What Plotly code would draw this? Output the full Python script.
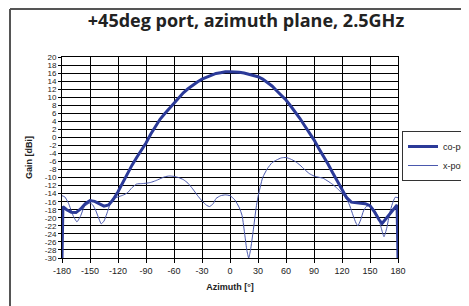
import plotly.graph_objects as go

# ---- data ----
co_az = [-180, -179, -175, -170, -165, -160, -155, -150, -145, -140, -135, -130, -125,
         -120, -115, -110, -105, -100, -95, -90, -85, -80, -75, -70, -65, -60, -55, -50,
         -45, -40, -35, -30, -25, -20, -15, -10, -5, 0, 5, 10, 15, 20, 25, 30, 35, 40,
         45, 50, 55, 60, 65, 70, 75, 80, 85, 90, 95, 100, 105, 110, 115, 120, 125, 130,
         135, 140, 145, 150, 155, 160, 163, 165, 170, 175, 179, 180]
co_gain = [-30, -17.2, -18.0, -18.6, -18.7, -17.8, -16.5, -15.7, -15.9, -16.5, -17.1, -16.8, -15.4,
           -13.5, -11.2, -9.0, -6.9, -5.0, -3.2, -1.4, 0.8, 2.8, 4.5, 5.9, 7.2, 8.5, 9.9, 11.1,
           12.1, 13.0, 13.8, 14.5, 15.0, 15.5, 15.9, 16.1, 16.3, 16.3, 16.3, 16.2, 16.0, 15.7, 15.4, 15.1, 14.5, 13.7,
           12.8, 11.6, 10.5, 9.3, 7.8, 6.3, 4.7, 2.9, 1.2, -0.6, -2.7, -4.6, -6.6, -8.8, -10.9, -13.1, -15.0, -16.1,
           -16.3, -16.4, -16.5, -17.0, -18.6, -20.6, -21.4, -20.8, -19.3, -17.8, -16.8, -30]

x_az = [-180, -177, -173, -168, -164, -160, -156, -150, -147, -144, -140, -138, -135, -132, -128,
        -125, -120, -115, -110, -105, -100, -95, -90, -85, -80, -75, -70, -65, -60, -55, -50,
        -45, -40, -35, -30, -25, -22, -18, -15, -10, -5, 0, 5, 10, 13, 16, 18, 20, 22, 25, 28,
        30, 35, 40, 45, 50, 55, 60, 65, 70, 75, 80, 85, 90, 95, 100, 105, 110, 115, 120, 125,
        128, 132, 135, 137, 140, 143, 146, 150, 153, 156, 159, 162, 165, 168, 171, 174, 177, 180]
x_gain = [-14.5, -14.8, -16.4, -19.5, -21.0, -19.5, -17.2, -16.3, -16.8, -18.1, -20.5, -21.5, -20.8, -19.0, -16.3,
          -15.3, -14.8, -14.4, -13.8, -12.5, -11.6, -11.5, -11.4, -11.2, -10.8, -10.3, -9.8, -9.6, -9.7, -10.0, -10.5,
          -11.4, -12.8, -14.4, -15.8, -16.9, -17.2, -16.5, -15.2, -14.5, -14.3, -14.5, -15.5, -17.5, -19.5, -24.5, -28, -30, -28, -23, -17.5,
          -14.8, -10, -7.8, -6.3, -5.6, -5.1, -5.0, -5.4, -6.0, -6.9, -8.0, -9.0, -9.6, -9.9, -10.2, -10.9, -11.7, -12.7, -13.9, -15.4,
          -16.8, -19.5, -21.3, -22.0, -20.5, -18.3, -17.2, -16.9, -17.5, -18.6, -19.8, -22.5, -24.7, -22.5, -18.9, -16.5, -14.9, -15.0]

x_ticks = [-180, -150, -120, -90, -60, -30, 0, 30, 60, 90, 120, 150, 180]
y_ticks = list(range(-30, 21, 2))

title_text = "+45deg port, azimuth plane, 2.5GHz"

# ---- figure ----
# the page body adds an 8px offset, so the figure is sized to fit the window after it
OFF = 8
PAGE_W, PAGE_H = 469, 306
W, H = PAGE_W - OFF, PAGE_H - OFF
plot_l, plot_r, plot_t, plot_b = 62, 398, 57, 258  # page pixels
ml, mr = plot_l - OFF, PAGE_W - plot_r
mt, mb = plot_t - OFF, PAGE_H - plot_b
pw, ph = W - ml - mr, H - mt - mb

fig = go.Figure()
fig.add_trace(go.Scatter(x=x_az, y=x_gain, name="x-pol", mode="lines",
                         line=dict(color="#4a58ad", width=1, shape="spline", smoothing=0.5)))
fig.add_trace(go.Scatter(x=co_az, y=co_gain, name="co-pol", mode="lines",
                         line=dict(color="#2b3a98", width=3)))

def px_x(p):  # page pixel -> paper x
    return (p - plot_l) / pw

def px_y(p):  # page pixel -> paper y
    return (plot_b - p) / ph

# outer chart frame (left and top edges)
fig.add_shape(type="line", xref="paper", yref="paper",
              x0=px_x(10), x1=px_x(10), y0=px_y(9), y1=px_y(PAGE_H + 5),
              line=dict(color="#555555", width=2))
fig.add_shape(type="line", xref="paper", yref="paper",
              x0=px_x(10), x1=px_x(PAGE_W + 5), y0=px_y(9), y1=px_y(9),
              line=dict(color="#555555", width=2))

fig.update_layout(
    width=W, height=H,
    margin=dict(l=ml, r=mr, t=mt, b=mb, autoexpand=False),
    paper_bgcolor="white", plot_bgcolor="white",
    title=dict(text="<b>" + title_text + "</b>", x=(246 - OFF) / W, xanchor="center",
               y=1 - (21 - OFF) / H, yanchor="middle",
               font=dict(family="Open Sans", size=18, color="#222222")),
    font=dict(family="Liberation Sans, Arial", color="#222222"),
    showlegend=True,
    legend=dict(x=px_x(402), y=px_y(156), xanchor="left", yanchor="middle",
                bordercolor="#333333", borderwidth=1, bgcolor="white",
                font=dict(size=9, family="Liberation Sans"),
                traceorder="reversed", itemwidth=30, tracegroupgap=0),
    xaxis=dict(range=[-180, 180], tickvals=x_ticks, ticktext=[str(v) for v in x_ticks],
               automargin=False,
               showgrid=True, gridcolor="black", gridwidth=1, zeroline=False,
               showline=True, linecolor="black", linewidth=1, mirror=True,
               ticks="outside", ticklen=4, tickcolor="black",
               tickfont=dict(size=9, family="Liberation Sans"),
               title=dict(text="<b>Azimuth [°]</b>", font=dict(size=9, family="Liberation Sans"),
                          standoff=8)),
    yaxis=dict(range=[-30, 20], tickvals=y_ticks, ticktext=[str(v) for v in y_ticks],
               automargin=False,
               showgrid=True, gridcolor="black", gridwidth=1, zeroline=False,
               showline=True, linecolor="black", linewidth=1, mirror=True,
               ticks="outside", ticklen=3, tickcolor="black",
               tickfont=dict(size=8, family="Liberation Sans"),
               title=dict(text="<b>Gain [dBi]</b>", font=dict(size=9, family="Liberation Sans"),
                          standoff=10)),
)

fig.write_html("out.html")
